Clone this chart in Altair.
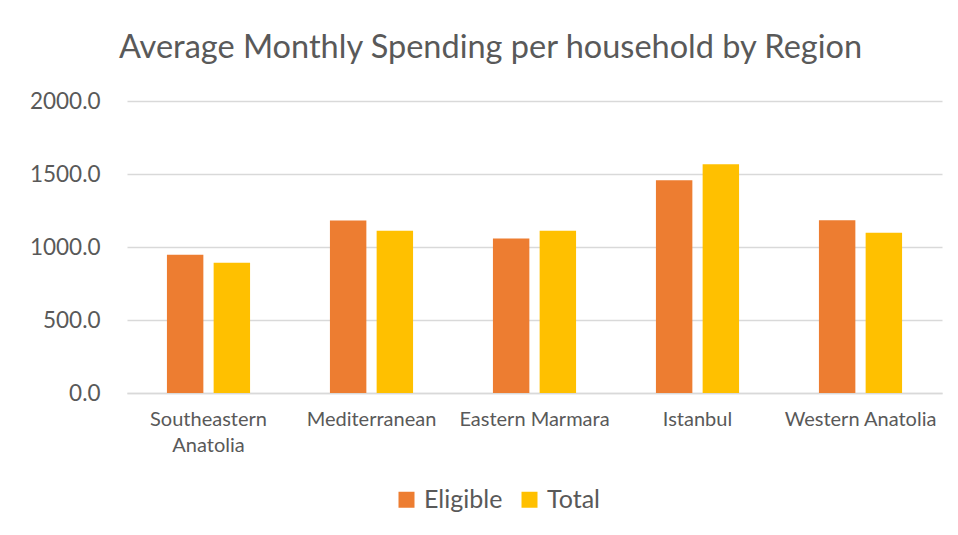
import altair as alt
import pandas as pd

regions = ["Southeastern Anatolia", "Mediterranean", "Eastern Marmara", "Istanbul", "Western Anatolia"]
eligible = [947, 1181, 1059, 1457, 1183]
total = [892, 1112, 1112, 1567, 1098]
series = ["Eligible", "Total"]
colors = ["#ED7D31", "#FFC000"]

rows = []
for r, e, t in zip(regions, eligible, total):
    rows.append({"Region": r, "Series": "Eligible", "Value": e})
    rows.append({"Region": r, "Series": "Total", "Value": t})
df = pd.DataFrame(rows)

FONT = "Lato"
GREY = "#595959"

chart = alt.Chart(df).mark_bar().encode(
    x=alt.X("Region:N", sort=regions, title=None,
            scale=alt.Scale(paddingInner=0.49, paddingOuter=0.245),
            axis=alt.Axis(labelAngle=0, ticks=False, domainColor="#D9D9D9", domainWidth=1.3,
                          labelPadding=16, labelFontSize=20, labelColor=GREY, labelFont=FONT,
                          labelLimit=300, labelLineHeight=26,
                          labelExpr="datum.label == 'Southeastern Anatolia' ? ['Southeastern', 'Anatolia'] : datum.label")),
    xOffset=alt.XOffset("Series:N", sort=series, scale=alt.Scale(paddingInner=0.22)),
    y=alt.Y("Value:Q", title=None,
            scale=alt.Scale(domain=[0, 2000], nice=False),
            axis=alt.Axis(values=[0, 500, 1000, 1500, 2000], format=".1f", domain=False, ticks=False,
                          gridColor="#D9D9D9", gridWidth=1.3, labelPadding=27, labelFontSize=22.5,
                          labelColor=GREY, labelFont=FONT)),
    color=alt.Color("Series:N", sort=series, scale=alt.Scale(domain=series, range=colors),
                    legend=alt.Legend(title=None, orient="none", direction="horizontal",
                                      legendX=267, legendY=386, symbolType="square",
                                      symbolSize=256, symbolStrokeWidth=0, labelFontSize=25,
                                      labelColor=GREY, labelFont=FONT, columnPadding=14,
                                      labelOffset=5)),
).properties(
    width=815,
    height=292,
    title=alt.Title("Average Monthly Spending per household by Region", fontSize=32.5,
                    font=FONT, fontWeight="normal", color=GREY, anchor="middle", offset=26, dx=-44),
    autosize=alt.AutoSizeParams(type="none"),
    padding={"left": 119, "top": 93, "right": 8, "bottom": 134},
).configure_view(stroke=None)

chart.save("out.html", embed_options={"renderer": "svg", "actions": False})
